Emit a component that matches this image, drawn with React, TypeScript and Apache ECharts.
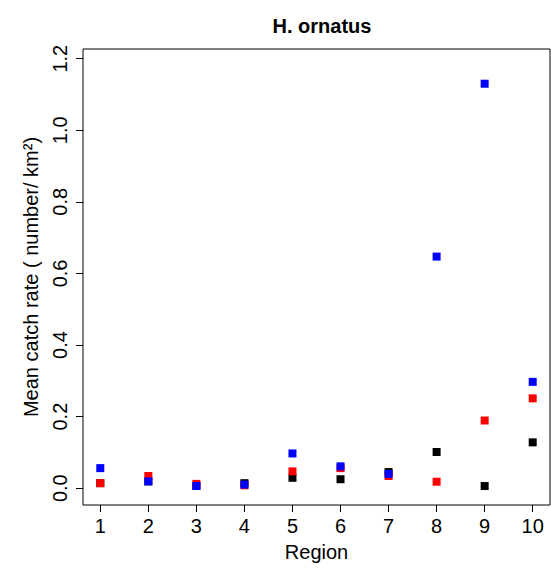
import React, { useEffect, useRef } from "react";
import * as echarts from "echarts";

const regions = [1, 2, 3, 4, 5, 6, 7, 8, 9, 10];
const blackValues = [0.014, 0.019, 0.006, 0.014, 0.029, 0.025, 0.045, 0.101, 0.006, 0.128];
const redValues = [0.014, 0.034, 0.012, 0.008, 0.047, 0.056, 0.034, 0.018, 0.189, 0.251];
const blueValues = [0.056, 0.019, 0.006, 0.010, 0.097, 0.061, 0.040, 0.647, 1.13, 0.297];
const yTicks = [0, 0.2, 0.4, 0.6, 0.8, 1.0, 1.2];
const xTicks = regions;

const font = "Liberation Sans, Arial, sans-serif";

export default function App() {
  const ref = useRef<HTMLDivElement>(null);
  useEffect(() => {
    if (!ref.current) return;
    const chart = echarts.init(ref.current, undefined, { renderer: "svg" });
    const mk = (vals: number[], color: string) => ({
      type: "scatter",
      symbol: "rect",
      symbolSize: 8,
      itemStyle: { color, opacity: 1 },
      data: regions.map((r, i) => [r, vals[i]]),
    });
    chart.setOption({
      animation: false,
      backgroundColor: "#fff",
      title: {
        text: "H. ornatus",
        left: 317,
        top: 11,
        textAlign: "center",
        textStyle: { fontFamily: font, fontWeight: "bold", fontSize: 20, color: "#000" },
      },
      grid: {
        left: 83,
        right: 1,
        top: 49,
        bottom: 64,
        show: true,
        borderColor: "#000",
        borderWidth: 1,
        backgroundColor: "transparent",
      },
      xAxis: {
        type: "value",
        min: 0.64,
        max: 10.36,
        name: "Region",
        nameLocation: "middle",
        nameGap: 37,
        nameTextStyle: { fontFamily: font, fontSize: 20, color: "#000" },
        axisLine: { show: false, onZero: false },
        splitLine: { show: false },
        axisTick: { show: true, length: 7, lineStyle: { color: "#000" }, customValues: xTicks },
        axisLabel: {
          customValues: xTicks,
          margin: 11,
          fontFamily: font,
          fontSize: 20,
          color: "#000",
        },
      },
      yAxis: {
        type: "value",
        min: -0.047,
        max: 1.227,
        name: "Mean catch rate ( number/ km²)",
        nameLocation: "middle",
        nameGap: 42,
        nameTextStyle: { fontFamily: font, fontSize: 20, color: "#000" },
        axisLine: { show: false, onZero: false },
        splitLine: { show: false },
        axisTick: { show: true, length: 7, lineStyle: { color: "#000" }, customValues: yTicks },
        axisLabel: {
          customValues: yTicks,
          rotate: 90,
          margin: 13,
          fontFamily: font,
          fontSize: 20,
          color: "#000",
          formatter: (v: number) => v.toFixed(1),
        },
      },
      series: [mk(blackValues, "#000000"), mk(redValues, "#ff0000"), mk(blueValues, "#0000ff")],
    });
    return () => chart.dispose();
  }, []);
  return (
    <div
      ref={ref}
      style={{ position: "fixed", left: 0, top: 0, width: 551, height: 569, background: "#fff" }}
    />
  );
}
